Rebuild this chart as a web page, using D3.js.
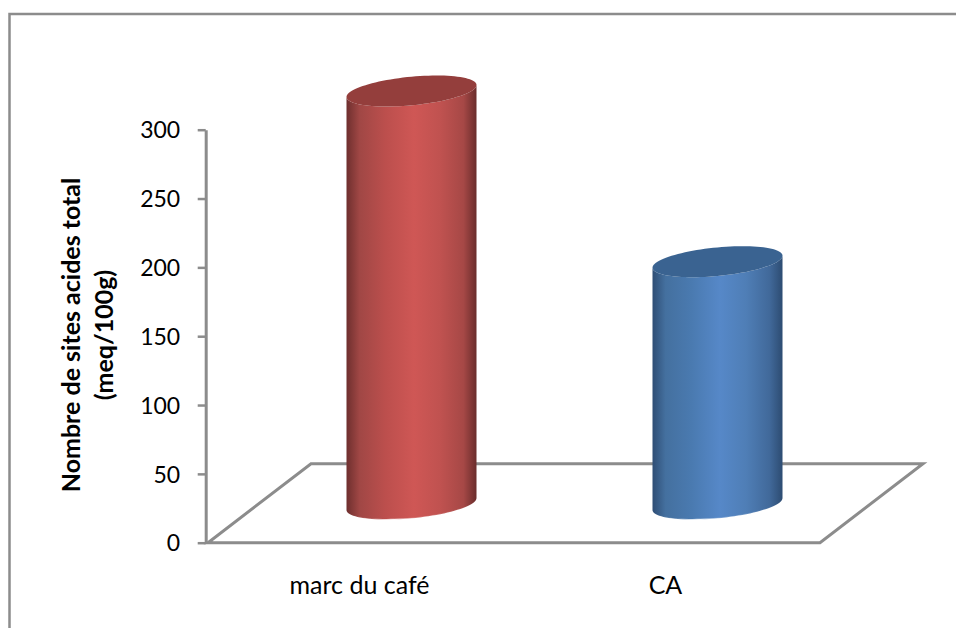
<!DOCTYPE html>
<html>
<head>
<meta charset="utf-8">
<script src="https://cdn.jsdelivr.net/npm/d3@7"></script>
<style>
  html, body { margin: 0; padding: 0; background: #fff; }
  svg { display: block; }
  text { font-family: Lato, "Open Sans", sans-serif; fill: #000; }
</style>
</head>
<body>
<svg id="chart" width="956" height="628"></svg>
<script>
const categories = ["marc du café", "CA"];
const values = [300, 176];
const tickValues = [0, 50, 100, 150, 200, 250, 300];
const yTitleLines = ["Nombre de sites acides total", "(meq/100g)"];
const barTops = ["#943E3C", "#3A6391"];
const barStops = [
  ["#6E2F2E", "#A04745", "#BC4F4D", "#CF5755", "#C05250", "#A64846", "#6A2D2C"],
  ["#2F4E75", "#44709F", "#4A7AB0", "#5688C8", "#4F7EB6", "#41699A", "#2D4C72"]
];
const gradientOffsets = [0, 0.1, 0.3, 0.52, 0.72, 0.9, 1];

const svg = d3.select("#chart");
const gray = "#8C8C8C";

// Outer chart frame, left and top edges
svg.append("path")
  .attr("d", "M9.5,628V14H956")
  .attr("fill", "none").attr("stroke", gray).attr("stroke-width", 2.5);

const y = d3.scaleLinear().domain([0, 300]).range([542.7, 129.7]);
const x = d3.scaleBand().domain(categories).range([208, 820]);

// Perspective offset between the front and the back of the floor
const depthX = 103, depthY = 79;

// Floor outline
svg.append("path")
  .attr("d", d3.line()([
    [x.range()[0], y(0)],
    [x.range()[0] + depthX, y(0) - depthY],
    [x.range()[1] + depthX, y(0) - depthY],
    [x.range()[1], y(0)]
  ]) + "Z")
  .attr("fill", "none").attr("stroke", gray).attr("stroke-width", 3);

// Value axis
const axis = d3.axisLeft(y).tickValues(tickValues).tickSize(8).tickPadding(17.5).tickSizeOuter(0);
const axisG = svg.append("g").attr("transform", "translate(205.7,0)").call(axis);
axisG.selectAll("path, line").attr("stroke", gray);
axisG.select("path").attr("stroke-width", 3);
axisG.selectAll("line").attr("stroke-width", 2.5);
axisG.selectAll("text").attr("font-size", 23).attr("dy", "0.36em").style("font-family", "Lato");

// Category labels
svg.selectAll(".cat").data(categories).join("text")
  .attr("class", "cat")
  .attr("x", d => x(d) + x.bandwidth() / 2 - 1.5)
  .attr("y", 593.5)
  .attr("text-anchor", "middle")
  .attr("font-size", 25)
  .text(d => d);

// Rotated axis title
const title = svg.append("text")
  .attr("transform", "translate(0,335) rotate(-90)")
  .attr("text-anchor", "middle")
  .attr("font-size", 25)
  .attr("font-weight", 700);
title.selectAll("tspan").data(yTitleLines).join("tspan")
  .attr("x", 0)
  .attr("y", (d, i) => 80 + i * 33)
  .text(d => d);

// Horizontal shading for each cylinder
const defs = svg.append("defs");
barStops.forEach((stops, i) => {
  const g = defs.append("linearGradient").attr("id", "cyl" + i)
    .attr("x1", 0).attr("x2", 1).attr("y1", 0).attr("y2", 0);
  stops.forEach((c, k) => g.append("stop").attr("offset", gradientOffsets[k]).attr("stop-color", c));
});

// Thin pale glint along the bottom rim of each cylinder
const glint = defs.append("linearGradient").attr("id", "glint")
  .attr("x1", 0).attr("x2", 1).attr("y1", 0).attr("y2", 0);
[[0, 0], [0.2, 0.25], [0.36, 0.8], [0.52, 0.25], [1, 0]].forEach(([o, a]) =>
  glint.append("stop").attr("offset", o).attr("stop-color", "#fff").attr("stop-opacity", a));

// Cylinder geometry
const halfWidth = 65, shear = 6, halfDepth = 14.3;
const rimPoint = (cx, cy, t) => [
  cx + halfWidth * Math.cos(t),
  cy - shear * Math.cos(t) + halfDepth * Math.sin(t)
];
const halfArc = d3.range(0, 49).map(k => k * Math.PI / 48);
const baseLift = 38.7;

categories.forEach((c, i) => {
  const cx = x(c) + x.bandwidth() / 2 + depthX / 2 - 1;
  const yBase = y(0) - baseLift;
  const yTop = y(values[i]) - baseLift;
  const lower = halfArc.map(t => rimPoint(cx, yBase, Math.PI - t));
  const upper = halfArc.map(t => rimPoint(cx, yTop, t));
  const capBack = halfArc.map(t => rimPoint(cx, yTop, Math.PI + t));
  svg.append("path")
    .attr("d", d3.line()(lower.concat(upper)) + "Z")
    .attr("fill", `url(#cyl${i})`);
  svg.append("path")
    .attr("d", d3.line()(upper.concat(capBack)) + "Z")
    .attr("fill", barTops[i]);
  svg.append("path")
    .attr("d", d3.line()(lower))
    .attr("fill", "none").attr("stroke", "url(#glint)").attr("stroke-width", 1.2);
});
</script>
</body>
</html>
